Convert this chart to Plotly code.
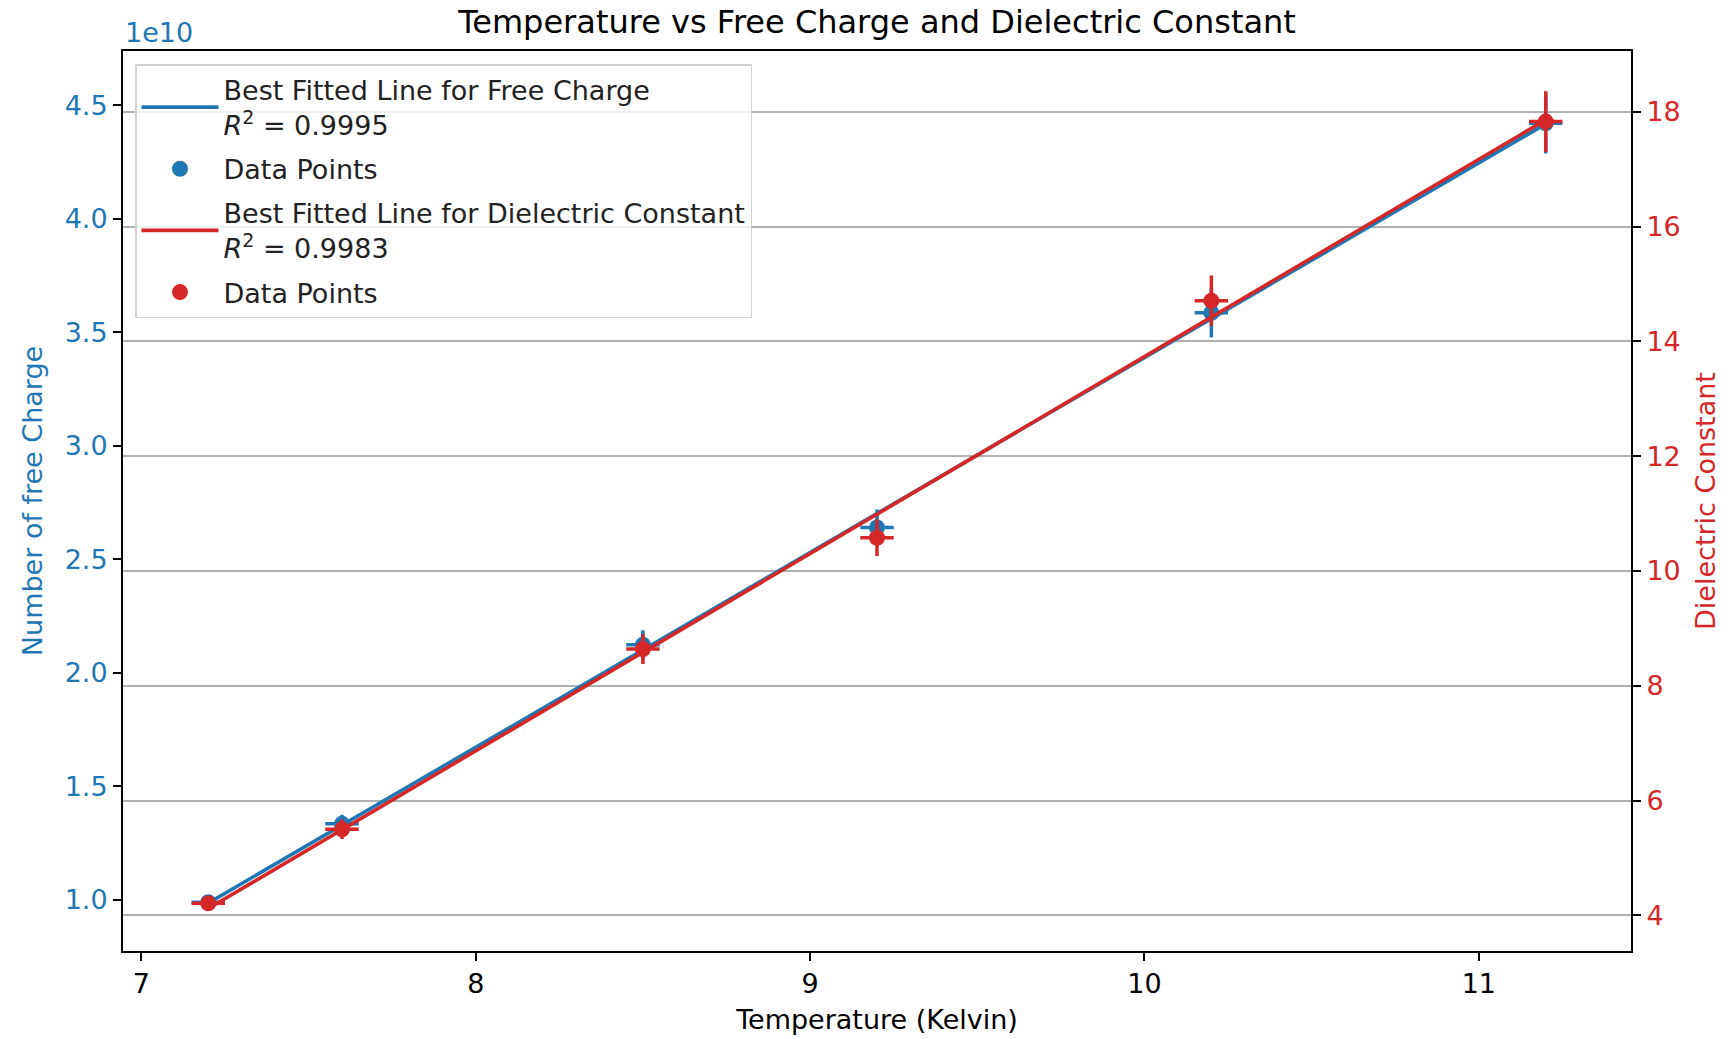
import plotly.graph_objects as go

# ---- data ----
temperature = [7.2, 7.6, 8.5, 9.2, 10.2, 11.2]
temperature_err = [0.05, 0.05, 0.05, 0.05, 0.05, 0.05]

free_charge = [0.99e10, 1.335e10, 2.123e10, 2.64e10, 3.585e10, 4.42e10]
free_charge_err = [0.03e10, 0.04e10, 0.064e10, 0.079e10, 0.108e10, 0.133e10]

dielectric = [4.21, 5.50, 8.64, 10.58, 14.71, 17.83]
dielectric_err = [0.13, 0.17, 0.26, 0.32, 0.44, 0.53]

fit_temperature = [7.2, 11.2]
fit_free_charge = [0.986e10, 4.417e10]
fit_dielectric = [4.12, 17.86]

r2_charge = "0.9995"
r2_dielectric = "0.9983"

x_ticks = [7, 8, 9, 10, 11]
left_tickvals = [1.0e10, 1.5e10, 2.0e10, 2.5e10, 3.0e10, 3.5e10, 4.0e10, 4.5e10]
left_ticktext = ["1.0", "1.5", "2.0", "2.5", "3.0", "3.5", "4.0", "4.5"]
right_ticks = [4, 6, 8, 10, 12, 14, 16, 18]

BLUE = "#1f77b4"
RED = "#d62728"
FONT = "DejaVu Sans"
FS = 27
TFS = 32

W, H = 1734, 1039
ML, MR, MT, MB = 123, 103, 51, 88

fig = go.Figure()

fig.add_trace(go.Scatter(
    x=fit_temperature, y=fit_free_charge, mode="lines",
    line=dict(color=BLUE, width=3.6),
    name="Best Fitted Line for Free Charge<br><i>R</i><sup>2</sup> = " + r2_charge,
    legendgroup="g1", yaxis="y"))
fig.add_trace(go.Scatter(
    x=temperature, y=free_charge, mode="markers",
    marker=dict(color=BLUE, size=16),
    error_y=dict(type="data", array=free_charge_err, color=BLUE, thickness=3.5, width=0),
    error_x=dict(type="data", array=temperature_err, color=BLUE, thickness=3.5, width=0),
    name="Data Points", legendgroup="g2", yaxis="y"))
fig.add_trace(go.Scatter(
    x=fit_temperature, y=fit_dielectric, mode="lines",
    line=dict(color=RED, width=3.6),
    name="Best Fitted Line for Dielectric Constant<br><i>R</i><sup>2</sup> = " + r2_dielectric,
    legendgroup="g3", yaxis="y2"))
fig.add_trace(go.Scatter(
    x=temperature, y=dielectric, mode="markers",
    marker=dict(color=RED, size=16),
    error_y=dict(type="data", array=dielectric_err, color=RED, thickness=3.5, width=0),
    error_x=dict(type="data", array=temperature_err, color=RED, thickness=3.5, width=0),
    name="Data Points", legendgroup="g4", yaxis="y2"))

plot_h = H - MT - MB

fig.update_layout(
    width=W, height=H,
    margin=dict(l=ML, r=MR, t=MT, b=MB, autoexpand=False),
    paper_bgcolor="white", plot_bgcolor="white",
    font=dict(family=FONT, size=FS, color="black"),
    title=dict(text="Temperature vs Free Charge and Dielectric Constant",
               x=0.5, xref="paper", xanchor="center",
               y=1 - 22 / H, yref="container", yanchor="middle",
               font=dict(family=FONT, size=TFS, color="black")),
    xaxis=dict(range=[6.945, 11.455], tickvals=x_ticks,
               showgrid=False, zeroline=False, automargin=False,
               showline=True, linecolor="black", linewidth=2, mirror=True,
               ticks="outside", ticklen=8, tickwidth=2, tickcolor="black",
               tickfont=dict(size=FS, color="black"),
               title=dict(text="Temperature (Kelvin)", font=dict(size=FS, color="black"), standoff=12)),
    yaxis=dict(range=[0.775e10, 4.738e10], tickvals=left_tickvals, ticktext=left_ticktext,
               showgrid=False, zeroline=False, automargin=False,
               showline=True, linecolor="black", linewidth=2, mirror=True,
               ticks="outside", ticklen=8, tickwidth=2, tickcolor="black",
               tickfont=dict(size=FS, color=BLUE),
               title=dict(text="Number of free Charge", font=dict(size=FS, color=BLUE), standoff=14)),
    yaxis2=dict(range=[3.38, 19.06], tickvals=right_ticks, overlaying="y", side="right",
                showgrid=True, gridcolor="#b0b0b0", gridwidth=1.9, zeroline=False, automargin=False,
                showline=True, linecolor="black", linewidth=2,
                ticks="outside", ticklen=8, tickwidth=2, tickcolor="black",
                tickfont=dict(size=FS, color=RED),
                title=dict(text="Dielectric Constant", font=dict(size=FS, color=RED), standoff=16)),
    legend=dict(x=(135 - ML) / (W - ML - MR), y=(H - MB - 64) / plot_h,
                xanchor="left", yanchor="top",
                bgcolor="rgba(255,255,255,0.8)", bordercolor="#d0d0d0", borderwidth=1.5,
                font=dict(family=FONT, size=FS, color="#222222"),
                tracegroupgap=6, itemwidth=77),
    showlegend=True,
    annotations=[dict(text="1e10", x=0, xref="paper", xanchor="left",
                      y=(H - MB - 33) / plot_h, yref="paper", yanchor="middle",
                      showarrow=False, font=dict(family=FONT, size=FS, color=BLUE))],
)

fig.write_html("out.html")
